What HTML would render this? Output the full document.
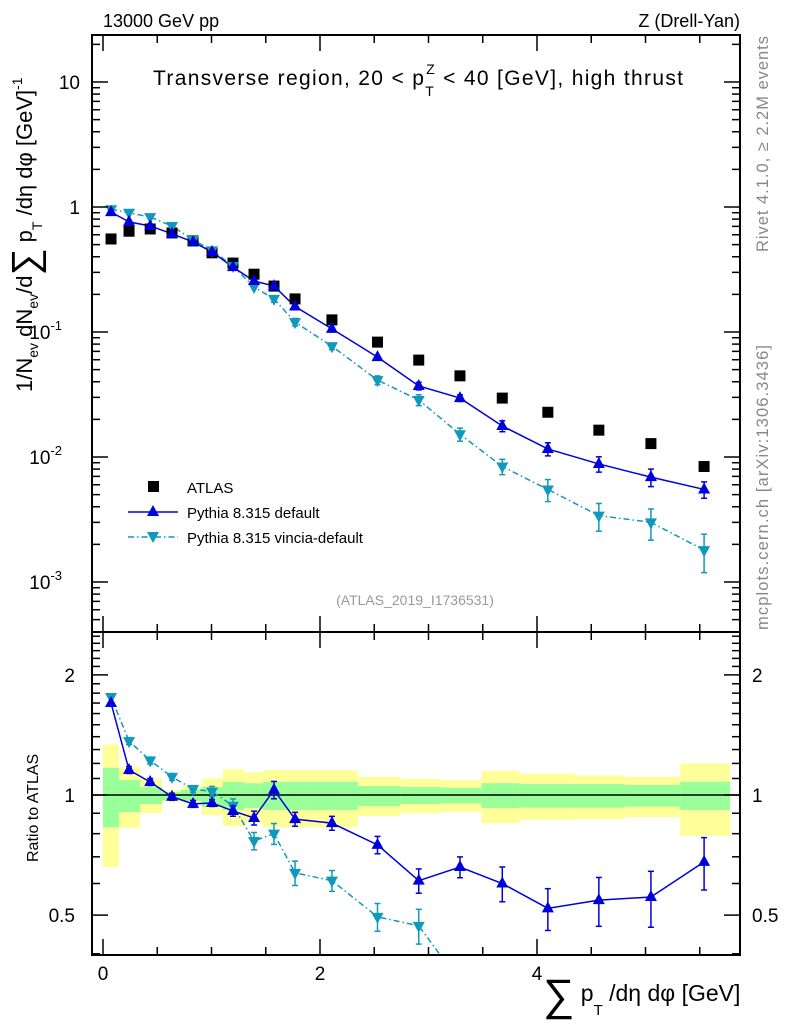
<!DOCTYPE html>
<html><head><meta charset="utf-8"><style>
body{margin:0;background:#fff;}
svg text{font-family:"Liberation Sans",sans-serif;}
</style></head><body>
<svg id="c" width="786" height="1024" xmlns="http://www.w3.org/2000/svg">
<rect x="0" y="0" width="786" height="1024" fill="#fff"/>
<g id="bands"></g>
<g id="marks"></g>
<rect x="92" y="35" width="648" height="597" fill="none" stroke="#000" stroke-width="2"/>
<rect x="92" y="632" width="648" height="323" fill="none" stroke="#000" stroke-width="2"/>
<g id="ticks" stroke="#000" stroke-width="1.5"></g>
<text x="103" y="27" font-size="18">13000 GeV pp</text>
<text x="740" y="27" font-size="18" text-anchor="end">Z (Drell-Yan)</text>
<text x="153" y="85" font-size="21" textLength="530">Transverse region, 20 &lt; p<tspan font-size="14" dy="11">T</tspan><tspan font-size="14" dx="-9" dy="-22">Z</tspan><tspan dy="11"> &lt; 40 [GeV], high thrust</tspan></text>
<text x="415" y="605" font-size="14" fill="#999" text-anchor="middle">(ATLAS_2019_I1736531)</text>
<text transform="translate(768,252) rotate(-90)" font-size="16.5" fill="#888" textLength="216">Rivet 4.1.0, ≥ 2.2M events</text>
<text transform="translate(768,630) rotate(-90)" font-size="16.5" fill="#888" textLength="285">mcplots.cern.ch [arXiv:1306.3436]</text>
<text transform="translate(32,392) rotate(-90)" font-size="22">1/N<tspan font-size="14" dy="6">ev</tspan><tspan dy="-6"> dN</tspan><tspan font-size="14" dy="6">ev</tspan><tspan dy="-6">/d</tspan><tspan font-size="38" dy="6">∑</tspan><tspan dy="-6"> p</tspan><tspan font-size="14" dy="10">T</tspan><tspan dy="-10"> /dη dφ  [GeV]</tspan><tspan font-size="14" dy="-10">-1</tspan></text>
<text transform="translate(38,862) rotate(-90)" font-size="16">Ratio to ATLAS</text>
<text x="543" y="1001" font-size="23"><tspan font-size="44" dy="9">∑</tspan><tspan dy="-9"> p</tspan><tspan font-size="15" dy="14">T</tspan><tspan dy="-14"> /dη dφ [GeV]</tspan></text>
<g id="legend">
<rect x="148" y="481" width="11" height="11" fill="#000"/>
<text x="187" y="493" font-size="15">ATLAS</text>
<line x1="128" y1="512" x2="178" y2="512" stroke="#0000dd" stroke-width="1.5"/>
<path d="M153,505 L159,516 L147,516Z" fill="#0000dd"/>
<text x="187" y="518" font-size="15">Pythia 8.315 default</text>
<line x1="128" y1="537" x2="178" y2="537" stroke="#1199bb" stroke-width="1.5" stroke-dasharray="6,3,1.5,3"/>
<path d="M147,532 L159,532 L153,543Z" fill="#1199bb"/>
<text x="187" y="543" font-size="15">Pythia 8.315 vincia-default</text>
</g>
</svg>
<script>
const edges=[0,0.147,0.341,0.544,0.719,0.912,1.106,1.300,1.475,1.677,1.880,2.35,2.74,3.11,3.49,3.84,4.35,4.81,5.32,5.78];
const xc=[0.074,0.24,0.435,0.636,0.83,1.005,1.198,1.392,1.576,1.77,2.11,2.53,2.91,3.29,3.68,4.10,4.57,5.05,5.54];
const atlas=[0.555,0.64,0.667,0.62,0.535,0.43,0.356,0.29,0.233,0.184,0.125,0.083,0.0596,0.0446,0.0296,0.0228,0.0164,0.0128,0.0084];
const pyDef=[0.91,0.76,0.705,0.61,0.525,0.437,0.33,0.256,0.233,0.16,0.106,0.063,0.037,0.0296,0.0177,0.0116,0.0088,0.0069,0.0055];
const pyDefErr=[0.01,0.02,0.02,0.02,0.02,0.02,0.03,0.04,0.05,0.04,0.04,0.05,0.07,0.06,0.1,0.12,0.14,0.16,0.15];
const pyVin=[0.96,0.9,0.83,0.705,0.545,0.45,0.337,0.229,0.184,0.12,0.077,0.0412,0.0286,0.0152,0.0084,0.0055,0.0034,0.003,0.0018];
const pyVinErr=[0.01,0.02,0.02,0.02,0.02,0.03,0.04,0.05,0.06,0.07,0.06,0.08,0.1,0.12,0.14,0.2,0.25,0.28,0.34];
const rDef=[1.70,1.155,1.078,0.99,0.95,0.955,0.912,0.876,1.03,0.87,0.85,0.75,0.61,0.66,0.60,0.52,0.545,0.555,0.68];
const rVin=[1.76,1.365,1.22,1.11,1.035,1.02,0.94,0.767,0.80,0.638,0.61,0.495,0.47,0.34,0.28,0.24,0.21,0.23,0.21];
const yelHi=[1.34,1.175,1.097,1.03,1.047,1.10,1.16,1.14,1.155,1.155,1.155,1.11,1.097,1.09,1.15,1.13,1.12,1.11,1.2];
const yelLo=[0.66,0.827,0.901,0.96,0.955,0.89,0.836,0.85,0.83,0.83,0.83,0.886,0.90,0.906,0.85,0.865,0.87,0.88,0.79];
const grnHi=[1.17,1.09,1.047,1.017,1.03,1.047,1.078,1.07,1.08,1.08,1.08,1.053,1.047,1.043,1.07,1.065,1.065,1.06,1.08];
const grnLo=[0.83,0.906,0.949,0.97,0.966,0.933,0.917,0.928,0.917,0.917,0.917,0.938,0.949,0.953,0.928,0.93,0.93,0.935,0.917];
const mainTicks=[["10",1],["1",0],["10","-1"],["10","-2"],["10","-3"]];
const ratioTicks=["0.5","1","2"];
const xTicks=["0","2","4"];

const NS="http://www.w3.org/2000/svg";
const X=v=>103+v*108.5;
const Y=v=>207-125*Math.log10(v);
const R=v=>795-399*Math.log10(v);
function mk(tag,at,parent){const e=document.createElementNS(NS,tag);for(const k in at)e.setAttribute(k,at[k]);(parent||document.getElementById('marks')).appendChild(e);return e;}
const bands=document.getElementById('bands');
for(let i=0;i<xc.length;i++){
  const x0=X(edges[i]),x1=X(edges[i+1]);
  const y=mk('rect',{x:x0,y:R(yelHi[i]),width:x1-x0,height:R(yelLo[i])-R(yelHi[i]),fill:'#ffff99'},bands);
  
  
  const g=mk('rect',{x:x0,y:R(grnHi[i]),width:x1-x0,height:R(grnLo[i])-R(grnHi[i]),fill:'#99ff99'},bands);
  
  
}
mk('line',{x1:92,x2:740,y1:R(1),y2:R(1),stroke:'#000','stroke-width':1.5});
function up(x,y,c){return mk('path',{d:`M${x},${y-7} L${x+6},${y+4} L${x-6},${y+4}Z`,fill:c});}
function dn(x,y,c){return mk('path',{d:`M${x-6},${y-4} L${x+6},${y-4} L${x},${y+7}Z`,fill:c});}
function errbar(x,ya,yb,c){if(Math.abs(yb-ya)<6)return;mk('line',{x1:x,x2:x,y1:ya,y2:yb,stroke:c,'stroke-width':1.5});mk('line',{x1:x-3,x2:x+3,y1:ya,y2:ya,stroke:c,'stroke-width':1.5});mk('line',{x1:x-3,x2:x+3,y1:yb,y2:yb,stroke:c,'stroke-width':1.5});}
function clipR(v){return Math.max(v,0.39);}
const cD='#0000dd',cV='#1199bb';
mk('polyline',{points:xc.map((v,i)=>X(v)+','+Y(pyVin[i])).join(' '),fill:'none',stroke:cV,'stroke-width':1.5,'stroke-dasharray':'6,3,1.5,3'});
mk('polyline',{points:xc.map((v,i)=>X(v)+','+Y(pyDef[i])).join(' '),fill:'none',stroke:cD,'stroke-width':1.5});
xc.forEach((v,i)=>{
  const a=mk('rect',{x:X(v)-5.5,y:Y(atlas[i])-5.5,width:11,height:11,fill:'#000'});
  
  
  errbar(X(v),Y(pyVin[i]*(1+pyVinErr[i])),Y(pyVin[i]*(1-pyVinErr[i])),cV);
  const p=dn(X(v),Y(pyVin[i]),cV);
  
  
  errbar(X(v),Y(pyDef[i]*(1+pyDefErr[i])),Y(pyDef[i]*(1-pyDefErr[i])),cD);
  const q=up(X(v),Y(pyDef[i]),cD);
  
  
});
const rg=mk('g',{'clip-path':'url(#rc)'});
const cp=mk('clipPath',{id:'rc'});mk('rect',{x:92,y:632,width:648,height:323},cp);
mk('polyline',{points:xc.map((v,i)=>X(v)+','+R(rVin[i])).join(' '),fill:'none',stroke:cV,'stroke-width':1.5,'stroke-dasharray':'6,3,1.5,3'},rg);
mk('polyline',{points:xc.map((v,i)=>X(v)+','+R(rDef[i])).join(' '),fill:'none',stroke:cD,'stroke-width':1.5},rg);
xc.forEach((v,i)=>{
  if(rVin[i]>0.4){
    errbar(X(v),R(rVin[i]*(1+pyVinErr[i])),R(clipR(rVin[i]*(1-pyVinErr[i]))),cV);
    const p=dn(X(v),R(rVin[i]),cV);
    
    
  }
  errbar(X(v),R(rDef[i]*(1+pyDefErr[i])),R(rDef[i]*(1-pyDefErr[i])),cD);
  const q=up(X(v),R(rDef[i]),cD);
  
  
});
const tk=document.getElementById('ticks');
function tl(x1,y1,x2,y2){mk('line',{x1,y1,x2,y2},tk);}
for(let d=-4;d<=1;d++){for(let m=1;m<10;m++){const y=207-125*(d+Math.log10(m));if(y<35||y>632)continue;const L=m==1?16:8;tl(92,y,92+L,y);tl(740,y,740-L,y);}}
mainTicks.forEach(t=>{const e=+t[1];const y=207-125*e;
  const tx=mk('text',{x:t[0]=="10"&&e<=0?70:80,y:y+7,'font-size':19,'text-anchor':'end',stroke:'none'},tk);
  tx.textContent=t[0];
  if(e<0){const s=mk('tspan',{'font-size':13,dy:-9},tx);s.textContent=t[1];tx.setAttribute('x',62);}
  
  
});
for(let k=4;k<=25;k++){const v=k/10;const y=R(v);if(y<632||y>955)continue;const L=(k==5||k==10||k==20)?16:8;tl(92,y,92+L,y);tl(740,y,740-L,y);}
ratioTicks.forEach(t=>{const y=R(+t);
  const a=mk('text',{x:75,y:y+7,'font-size':19,'text-anchor':'end',stroke:'none'},tk);a.textContent=t;
  
  
  const b=mk('text',{x:752,y:y+7,'font-size':19,stroke:'none'},tk);b.textContent=t;
  
  
});
for(let k=0;k<=11;k++){const x=X(k*0.5);const L=k%4==0?16:8;tl(x,955,x,955-L);tl(x,632,x,632-L);tl(x,632,x,632+L);tl(x,35,x,35+L);}
xTicks.forEach(t=>{const a=mk('text',{x:X(+t),y:980,'font-size':19,'text-anchor':'middle',stroke:'none'},tk);a.textContent=t;
  
  });
</script>
</body></html>
